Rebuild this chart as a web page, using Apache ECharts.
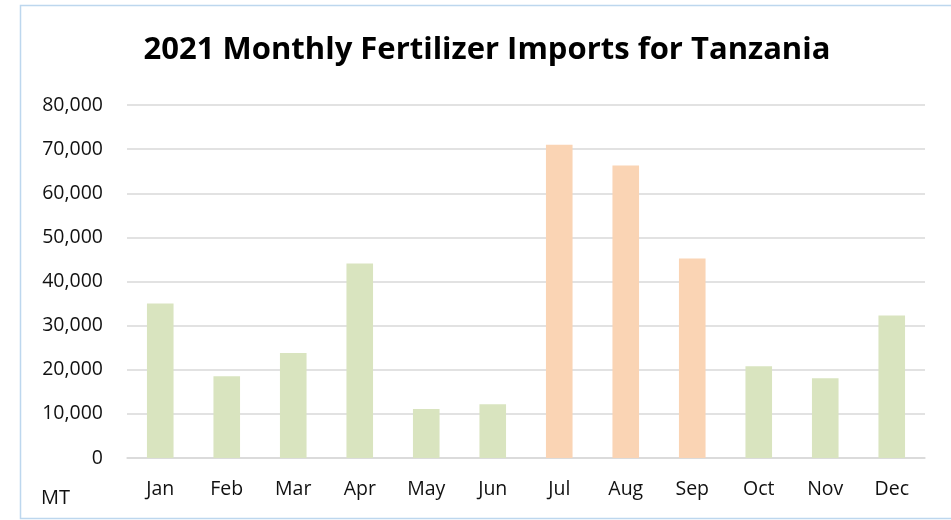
<!DOCTYPE html>
<html><head><meta charset="utf-8">
<script src="https://cdn.jsdelivr.net/npm/echarts@6/dist/echarts.min.js"></script>
<style>html,body{margin:0;padding:0;background:#fff}#c{width:951px;height:520px}</style>
</head><body><div id="c"></div>
<script>
const titleText = '2021 Monthly Fertilizer Imports for Tanzania';
const categories = ['Jan','Feb','Mar','Apr','May','Jun','Jul','Aug','Sep','Oct','Nov','Dec'];
const imports = [35000, 18500, 23800, 44100, 11100, 12200, 71000, 66300, 45200, 20800, 18100, 32300];
const highlighted = [false,false,false,false,false,false,true,true,true,false,false,false];
const unitLabel = 'MT';
const FONT = '"Open Sans", "Liberation Sans", sans-serif';
const chart = echarts.init(document.getElementById('c'));
chart.setOption({
  animation: false,
  backgroundColor: '#fff',
  title: { text: titleText, left: 482, top: 30, textAlign: 'center',
    textStyle: { fontFamily: FONT, fontWeight: 'bold', fontSize: 31, color: '#000' } },
  grid: { left: 127, right: 26, top: 105, bottom: 62, containLabel: false },
  xAxis: { type: 'category', data: categories,
    axisLine: { lineStyle: { color: '#d9d9d9', width: 1.5 } }, axisTick: { show: false },
    axisLabel: { fontFamily: FONT, fontSize: 19.5, color: '#111', margin: 21 } },
  yAxis: { type: 'value', min: 0, max: 80000, interval: 10000,
    axisLine: { show: false }, axisTick: { show: false },
    splitLine: { lineStyle: { color: '#d9d9d9', width: 1.5 } },
    axisLabel: { fontFamily: FONT, fontSize: 19.5, color: '#111', margin: 24,
      formatter: v => v.toLocaleString('en-US') } },
  series: [{ type: 'bar', barWidth: '40%',
    data: imports.map((v, i) => ({ value: v, itemStyle: { color: highlighted[i] ? '#fad4b4' : '#d9e4bf' } })) }],
  graphic: [
    { type: 'rect', shape: { x: 20.5, y: 5.5, width: 940, height: 513 }, style: { fill: 'none', stroke: '#bdd7ee', lineWidth: 1.5 }, silent: true },
    { type: 'text', left: 41, top: 488, style: { text: unitLabel, fontFamily: FONT, fontSize: 20, fill: '#111' } }
  ]
});
</script></body></html>
